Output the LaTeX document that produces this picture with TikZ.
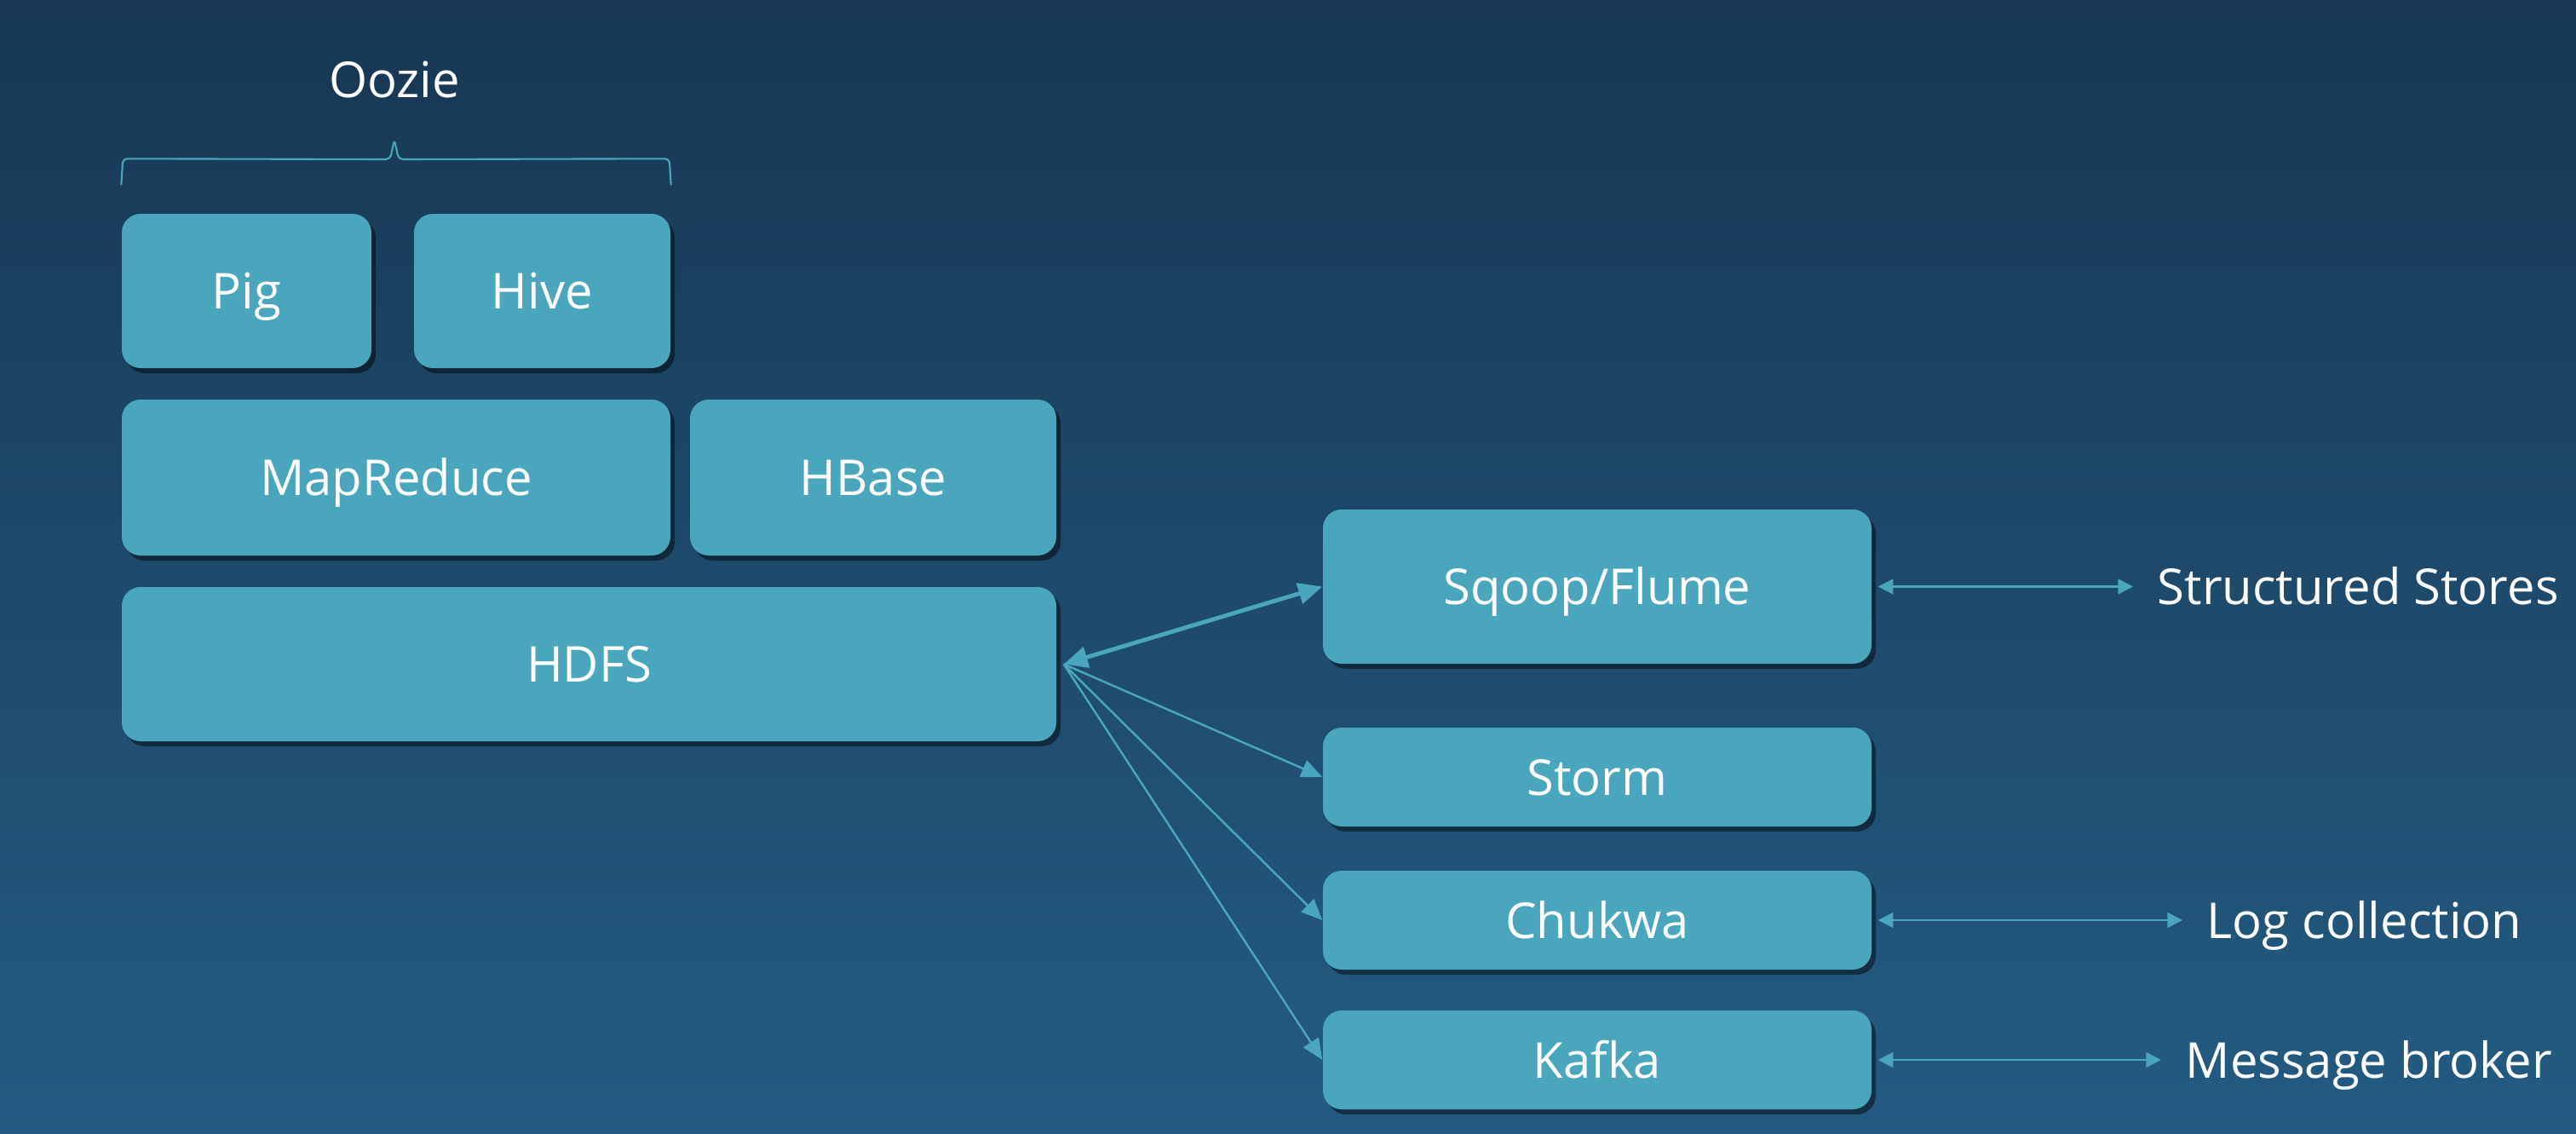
\documentclass[tikz,border=0pt]{standalone}
\usepackage{fontspec}
\setmainfont{Open Sans}
\usepackage{tikz}
\usetikzlibrary{arrows.meta}
\usetikzlibrary{shadows}
\usetikzlibrary{calc}

\definecolor{slidetop}{HTML}{173753}
\definecolor{slidebottom}{HTML}{245B82}
\definecolor{toolfill}{HTML}{4AA6BD}
\newcommand{\slidefont}{\fontsize{16.5}{20}\selectfont}

\begin{document}
\begin{tikzpicture}[
    tool/.style={fill=toolfill, rounded corners=0.22cm, text=white, font=\slidefont,
      inner sep=0pt, text height=0.42cm, text depth=0pt,
      drop shadow={shadow xshift=0.05cm, shadow yshift=-0.06cm, opacity=0.45, fill=black}},
    note/.style={text=white, font=\slidefont, inner sep=0pt, text height=0.42cm, text depth=0pt},
    bracket/.style={draw=toolfill, line width=0.6pt, rounded corners=0.05cm},
    feed/.style={draw=toolfill, line width=0.7pt, -{Triangle[length=7pt,width=6pt]}},
    bothway/.style={draw=toolfill, line width=1.4pt,
      {Triangle[length=8pt,width=7pt]}-{Triangle[length=8pt,width=7pt]}},
    side/.style={draw=toolfill, line width=0.7pt, shorten <=0.07cm, shorten >=0.28cm,
      {Triangle[length=5pt,width=5pt]}-{Triangle[length=5pt,width=5pt]}}
  ]
  \useasboundingbox (0,0) rectangle (30.24,-13.30);
  \shade[top color=slidetop, bottom color=slidebottom] (0,0) rectangle (30.24,-13.30);

  % left stack
  \node[tool, minimum width=2.93cm, minimum height=1.81cm] (pig) at (2.895,-3.415) {Pig};
  \node[tool, minimum width=3.01cm, minimum height=1.81cm] (hive) at (6.365,-3.415) {Hive};
  \node[tool, minimum width=6.44cm, minimum height=1.83cm] (mapreduce) at (4.65,-5.605) {MapReduce};
  \node[tool, minimum width=4.30cm, minimum height=1.83cm] (hbase) at (10.25,-5.605) {HBase};
  \node[tool, minimum width=10.97cm, minimum height=1.81cm] (hdfs) at (6.915,-7.795) {HDFS};

  \node[note] (oozie) at (4.63,-0.93) {Oozie};
  \coordinate (braceleft) at ([yshift=0.33cm]pig.north west);
  \coordinate (braceright) at ([yshift=0.33cm]hive.north east);
  \coordinate (bracetip) at ([yshift=-0.71cm]oozie.center);
  \draw[bracket] (braceleft) -- ++(0.02,0.31) -- ($(bracetip)+(-0.05,-0.23)$)
    -- (bracetip) -- ($(bracetip)+(0.05,-0.23)$) -- ($(braceright)+(-0.02,0.31)$) -- (braceright);

  % ingest side
  \node[tool, minimum width=6.44cm, minimum height=1.81cm] (sqoop) at (18.75,-6.885) {Sqoop/Flume};
  \node[tool, minimum width=6.44cm, minimum height=1.16cm] (storm) at (18.75,-9.12) {Storm};
  \node[tool, minimum width=6.44cm, minimum height=1.16cm] (chukwa) at (18.75,-10.80) {Chukwa};
  \node[tool, minimum width=6.44cm, minimum height=1.16cm] (kafka) at (18.75,-12.44) {Kafka};

  \node[note, anchor=west] (stores) at (25.32,-6.885) {Structured Stores};
  \node[note, anchor=west] (logs) at (25.90,-10.80) {Log collection};
  \node[note, anchor=west] (broker) at (25.65,-12.44) {Message broker};

  \draw[bothway] ([xshift=0.08cm]hdfs.east) -- (sqoop.west);
  \draw[feed] ([xshift=0.08cm]hdfs.east) -- (storm.west);
  \draw[feed] ([xshift=0.08cm]hdfs.east) -- (chukwa.west);
  \draw[feed] ([xshift=0.08cm]hdfs.east) -- (kafka.west);

  \draw[side] (sqoop.east) -- (stores.west);
  \draw[side] (chukwa.east) -- (logs.west);
  \draw[side] (kafka.east) -- (broker.west);
\end{tikzpicture}
\end{document}
